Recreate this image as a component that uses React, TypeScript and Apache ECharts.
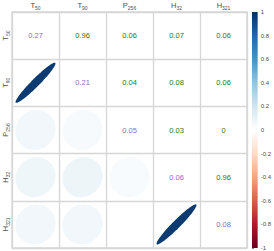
import React, { useEffect, useRef } from "react";
import * as echarts from "echarts";

const labelBase = ["T", "T", "P", "H", "H"];
const labelSub = ["50", "90", "256", "32", "321"];

const rowT50 = [0.27, 0.96, 0.06, 0.07, 0.06];
const rowT90 = [0.96, 0.21, 0.04, 0.08, 0.06];
const rowP256 = [0.06, 0.04, 0.05, 0.03, 0];
const rowH32 = [0.07, 0.08, 0.03, 0.06, 0.96];
const rowH321 = [0.06, 0.06, 0, 0.96, 0.08];
const matrix = [rowT50, rowT90, rowP256, rowH32, rowH321];

const colorbarTicks = [-1, -0.8, -0.6, -0.4, -0.2, 0, 0.2, 0.4, 0.6, 0.8, 1];

const palette = [
  "#67001F", "#B2182B", "#D6604D", "#F4A582", "#FDDBC7", "#FFFFFF",
  "#D1E5F0", "#92C5DE", "#4393C3", "#2166AC", "#053061",
];

const FONT = "'Liberation Sans', Arial, Helvetica, sans-serif";
const LABEL_COLOR = "#4d4d4d";
const DIAG_COLOR = "#8e6bc6";
const OFF_COLOR = "#1b7a1b";
const LINE_COLOR = "#d6d6d6";

export default function App() {
  const ref = useRef<HTMLDivElement>(null);

  useEffect(() => {
    if (!ref.current) return;
    const chart = echarts.init(ref.current, undefined, { renderer: "svg" });

    const categories = labelBase.map((b, i) => b + labelSub[i]);
    const ellipseData: number[][] = [];
    const textData: number[][] = [];
    matrix.forEach((row, r) => {
      row.forEach((v, c) => {
        if (c < r) ellipseData.push([c, r, v]);
        else textData.push([c, r, v]);
      });
    });

    const labelFmt = (_: string, idx: number) => `{b|${labelBase[idx]}}{s|${labelSub[idx]}}`;
    const rich = {
      b: { fontSize: 7.5, lineHeight: 9, color: LABEL_COLOR, fontFamily: FONT, verticalAlign: "middle" },
      s: { fontSize: 5, lineHeight: 5, color: LABEL_COLOR, fontFamily: FONT, verticalAlign: "bottom" },
    };

    const gradStops = palette
      .slice()
      .reverse()
      .map((c, i) => ({ offset: i / (palette.length - 1), color: c }));

    chart.setOption({
      animation: false,
      grid: [
        { left: 12, top: 12, width: 235, height: 236, show: true, borderColor: LINE_COLOR, borderWidth: 1.3 },
        { left: 252, top: 12, width: 7.5, height: 237 },
      ],
      visualMap: {
        show: false,
        type: "continuous",
        min: -1,
        max: 1,
        dimension: 2,
        seriesIndex: 0,
        inRange: { color: palette },
      },
      xAxis: [
        {
          gridIndex: 0,
          type: "category",
          position: "top",
          data: categories,
          axisLine: { show: false },
          axisTick: { show: false },
          splitLine: { show: true, interval: 0, lineStyle: { color: LINE_COLOR, width: 1.3 } },
          axisLabel: { interval: 0, margin: 2, formatter: labelFmt, rich },
        },
        { gridIndex: 1, type: "value", min: 0, max: 1, show: false },
      ],
      yAxis: [
        {
          gridIndex: 0,
          type: "category",
          inverse: true,
          data: categories,
          axisLine: { show: false },
          axisTick: { show: false },
          splitLine: { show: true, interval: 0, lineStyle: { color: LINE_COLOR, width: 1.3 } },
          axisLabel: { interval: 0, margin: 2, rotate: 90, formatter: labelFmt, rich },
        },
        {
          gridIndex: 1,
          type: "value",
          position: "right",
          min: colorbarTicks[0],
          max: colorbarTicks[colorbarTicks.length - 1],
          interval: 0.2,
          axisLine: { show: false },
          splitLine: { show: false },
          axisTick: { show: true, length: 2, lineStyle: { color: "#666", width: 0.8 } },
          axisLabel: {
            margin: 3,
            fontSize: 6,
            color: LABEL_COLOR,
            fontFamily: FONT,
            formatter: (v: number) => String(Math.round(v * 10) / 10),
          },
        },
      ],
      series: [
        {
          type: "custom",
          xAxisIndex: 0,
          yAxisIndex: 0,
          data: ellipseData,
          renderItem: (params: any, api: any) => {
            const c = api.coord([api.value(0), api.value(1)]);
            const s = api.size([1, 1]);
            const rho = api.value(2);
            const d = Math.acos(rho);
            const pts: number[][] = [];
            const n = 99;
            for (let k = 0; k < n; k++) {
              const t = (2 * Math.PI * k) / (n - 1);
              const x = (0.85 * Math.cos(t + d / 2)) / 2;
              const y = (0.85 * Math.cos(t - d / 2)) / 2;
              pts.push([c[0] + x * s[0], c[1] - y * s[1]]);
            }
            return {
              type: "polygon",
              shape: { points: pts },
              style: { fill: api.visual("color"), stroke: null },
            };
          },
        },
        {
          type: "custom",
          xAxisIndex: 0,
          yAxisIndex: 0,
          data: textData,
          renderItem: (params: any, api: any) => {
            const col = api.value(0);
            const row = api.value(1);
            const v = api.value(2);
            const c = api.coord([col, row]);
            return {
              type: "text",
              x: c[0],
              y: c[1],
              style: {
                text: String(v),
                fill: col === row ? DIAG_COLOR : OFF_COLOR,
                font: `7.5px ${FONT}`,
                align: "center",
                verticalAlign: "middle",
              },
            };
          },
        },
        {
          type: "custom",
          xAxisIndex: 1,
          yAxisIndex: 1,
          data: [[0, colorbarTicks[0], colorbarTicks[colorbarTicks.length - 1]]],
          renderItem: (params: any, api: any) => {
            const top = api.coord([0, api.value(2)]);
            const bottom = api.coord([0, api.value(1)]);
            const cs = params.coordSys;
            return {
              type: "rect",
              shape: { x: cs.x, y: top[1], width: cs.width, height: bottom[1] - top[1] },
              style: { fill: new echarts.graphic.LinearGradient(0, 0, 0, 1, gradStops) },
            };
          },
        },
      ],
    });

    return () => chart.dispose();
  }, []);

  return (
    <div
      ref={ref}
      style={{ position: "absolute", left: 0, top: 0, width: 274, height: 251 }}
    />
  );
}
